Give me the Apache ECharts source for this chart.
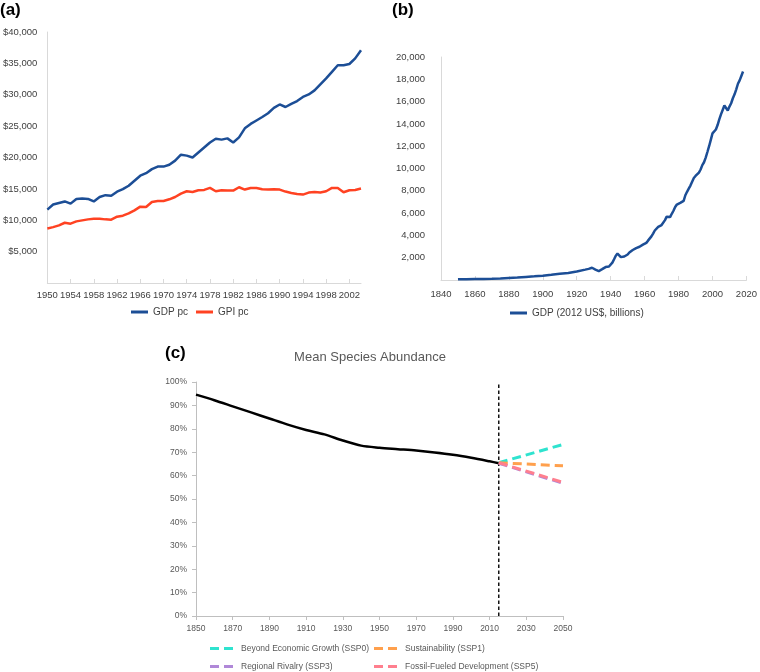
<!DOCTYPE html>
<html>
<head>
<meta charset="utf-8">
<script src="https://cdn.jsdelivr.net/npm/echarts@6/dist/echarts.min.js"></script>
<style>
html,body{margin:0;padding:0;background:#fff;}
#chart{width:760px;height:672px;}
</style>
</head>
<body>
<div id="chart"></div>
<script>
// ---------- Panel (a): GDP pc vs GPI pc ----------
const panelAYears = ['1950','1951','1952','1953','1954','1955','1956','1957','1958','1959',
  '1960','1961','1962','1963','1964','1965','1966','1967','1968','1969',
  '1970','1971','1972','1973','1974','1975','1976','1977','1978','1979',
  '1980','1981','1982','1983','1984','1985','1986','1987','1988','1989',
  '1990','1991','1992','1993','1994','1995','1996','1997','1998','1999',
  '2000','2001','2002','2003','2004'];
const gdpPc = [11700,12500,12750,13000,12650,13400,13450,13400,13000,13700,
  14000,13900,14550,14950,15500,16300,17100,17500,18150,18550,
  18550,18850,19500,20450,20300,20000,20800,21600,22400,23000,
  22850,23050,22400,23200,24650,25350,25900,26450,27050,27900,
  28450,28050,28550,29000,29650,30050,30700,31650,32600,33650,
  34700,34700,34900,35800,37100];
const gpiPc = [8700,8900,9180,9600,9450,9820,9980,10140,10250,10250,
  10140,10090,10570,10730,11100,11580,12170,12110,12910,13070,
  13070,13340,13710,14250,14620,14510,14780,14830,15150,14620,
  14780,14730,14730,15260,14890,15150,15150,14940,14890,14940,
  14890,14570,14350,14200,14090,14410,14510,14410,14620,15150,
  15150,14460,14780,14830,15050];

// ---------- Panel (b): US GDP (2012 US$, billions) ----------
const panelBYears = [1850,1855,1860,1865,1870,1875,1880,1885,1890,1895,1900,1905,1910,1915,1920,1925,
  1926,1927,1928,1929,
  1930,1931,1932,1933,1934,1935,1936,1937,1938,1939,
  1940,1941,1942,1943,1944,1945,1946,1947,1948,1949,
  1950,1951,1952,1953,1954,1955,1956,1957,1958,1959,
  1960,1961,1962,1963,1964,1965,1966,1967,1968,1969,
  1970,1971,1972,1973,1974,1975,1976,1977,1978,1979,
  1980,1981,1982,1983,1984,1985,1986,1987,1988,1989,
  1990,1991,1992,1993,1994,1995,1996,1997,1998,1999,
  2000,2001,2002,2003,2004,2005,2006,2007,2008,2009,
  2010,2011,2012,2013,2014,2015,2016,2017,2018];
const gdpBillions = [60,75,90,100,115,140,190,230,280,330,390,470,560,620,760,930,
  990,1000,1020,1100,
  1000,940,820,800,890,970,1100,1160,1120,1210,
  1320,1560,1860,2180,2370,2340,2050,2030,2110,2100,
  2290,2470,2570,2690,2670,2860,2920,2980,2950,3170,
  3250,3330,3530,3690,3910,4160,4440,4560,4770,4920,
  4930,5100,5370,5680,5650,5640,5940,6210,6550,6770,
  6750,6920,6790,7100,7600,7910,8190,8470,8820,9150,
  9330,9320,9640,9910,10300,10560,10980,11480,12000,12570,
  13150,13300,13500,13900,14400,14850,15250,15650,15600,15200,
  15550,15850,16300,16650,17100,17600,17900,18300,18700];

// ---------- Panel (c): Mean Species Abundance ----------
const msaYears = [1850,1860,1870,1880,1890,1900,1910,1920,1930,1940,1950,1960,1970,1980,1990,2000,2010,2015];
const msaValues = [0.946,0.922,0.896,0.870,0.844,0.818,0.795,0.776,0.750,0.728,0.719,0.713,0.707,0.699,0.689,0.676,0.661,0.653];
const projYears = [2015,2050];
const ssp0 = [0.655,0.733];
const ssp1 = [0.655,0.642];
const ssp3 = [0.653,0.567];
const ssp5 = [0.655,0.571];
const dividerYear = 2015;
const dividerRange = [0,1];

const FONT = "'Liberation Sans', Arial, sans-serif";
const pairs = (xs, ys) => xs.map((x,i)=>[x, ys[i]]);
const fmtComma = v => v.toLocaleString('en-US');
const DASH_ICON = 'path://M0,0H9V3H0Z M14,0H23V3H14Z';

const chart = echarts.init(document.getElementById('chart'), null, {renderer:'canvas'});

const labelA = {fontFamily:FONT, fontSize:9.5, color:'#404040'};
const labelC = {fontFamily:FONT, fontSize:8.5, color:'#595959'};
const legendC = {fontFamily:FONT, fontSize:8.5, color:'#595959', padding:[0,0,0,3]};

const option = {
  animation:false,
  backgroundColor:'#fff',
  title:[
    {text:'(a)', left:0, top:2, padding:0, textStyle:{fontFamily:FONT, fontSize:17, fontWeight:'bold', color:'#000'}},
    {text:'(b)', left:392, top:2, padding:0, textStyle:{fontFamily:FONT, fontSize:17, fontWeight:'bold', color:'#000'}},
    {text:'(c)', left:165, top:345, padding:0, textStyle:{fontFamily:FONT, fontSize:17, fontWeight:'bold', color:'#000'}},
    {text:'Mean Species Abundance', left:370, textAlign:'center', top:351, padding:0,
     textStyle:{fontFamily:FONT, fontSize:13, fontWeight:'normal', color:'#595959'}}
  ],
  grid:[
    {left:43, top:32, width:318, height:251, containLabel:false},
    {left:441, top:57, width:309, height:223, containLabel:false},
    {left:196, top:382, width:367, height:234, containLabel:false}
  ],
  xAxis:[
    {gridIndex:0, type:'category', data:panelAYears, boundaryGap:false,
     axisLine:{lineStyle:{color:'#d9d9d9', width:1}},
     axisTick:{interval:3, inside:true, length:4, lineStyle:{color:'#d9d9d9'}},
     axisLabel:Object.assign({interval:3, margin:7}, labelA),
     splitLine:{show:false}},
    {gridIndex:1, type:'value', min:1840, max:2020, interval:20,
     axisLine:{lineStyle:{color:'#d9d9d9', width:1}},
     axisTick:{inside:true, length:4, lineStyle:{color:'#d9d9d9'}},
     axisLabel:Object.assign({margin:9, showMaxLabel:true, formatter:v => String(v)}, labelA),
     splitLine:{show:false}},
    {gridIndex:2, type:'value', min:1850, max:2050, interval:20,
     axisLine:{lineStyle:{color:'#bfbfbf', width:1}},
     axisTick:{inside:false, length:4, lineStyle:{color:'#bfbfbf'}},
     axisLabel:Object.assign({margin:8, formatter:v => String(v)}, labelC),
     splitLine:{show:false}}
  ],
  yAxis:[
    {gridIndex:0, type:'value', min:0, max:40000, interval:5000,
     axisLine:{show:true, lineStyle:{color:'#d9d9d9', width:1}},
     axisTick:{show:false},
     axisLabel:Object.assign({margin:10, formatter:v => v===0 ? '' : '$'+fmtComma(v)}, labelA),
     splitLine:{show:false}},
    {gridIndex:1, type:'value', min:0, max:20000, interval:2000,
     axisLine:{show:true, lineStyle:{color:'#d9d9d9', width:1}},
     axisTick:{show:false},
     axisLabel:Object.assign({margin:16, formatter:v => v===0 ? '' : fmtComma(v)}, labelA),
     splitLine:{show:false}},
    {gridIndex:2, type:'value', min:0, max:1, interval:0.1,
     axisLine:{show:true, lineStyle:{color:'#bfbfbf', width:1}},
     axisTick:{show:true, inside:false, length:4, lineStyle:{color:'#bfbfbf'}},
     axisLabel:Object.assign({margin:9, formatter:v => Math.round(v*100)+'%'}, labelC),
     splitLine:{show:false}}
  ],
  legend:[
    {data:[{name:'GDP pc', icon:'rect'},{name:'GPI pc', icon:'rect'}], left:131, top:307, itemWidth:17, itemHeight:3, itemGap:8, padding:0,
     textStyle:{fontFamily:FONT, fontSize:10, color:'#404040'}},
    {data:[{name:'GDP (2012 US$, billions)', icon:'rect'}], left:510, top:308, itemWidth:17, itemHeight:3, padding:0,
     textStyle:{fontFamily:FONT, fontSize:10, color:'#404040'}},
    {data:[{name:'Beyond Economic Growth (SSP0)', icon:DASH_ICON}], left:210, top:644, itemWidth:23, itemHeight:3, padding:0, textStyle:legendC},
    {data:[{name:'Sustainability (SSP1)', icon:DASH_ICON}], left:374, top:644, itemWidth:23, itemHeight:3, padding:0, textStyle:legendC},
    {data:[{name:'Regional Rivalry (SSP3)', icon:DASH_ICON}], left:210, top:662, itemWidth:23, itemHeight:3, padding:0, textStyle:legendC},
    {data:[{name:'Fossil-Fueled Development (SSP5)', icon:DASH_ICON}], left:374, top:662, itemWidth:23, itemHeight:3, padding:0, textStyle:legendC}
  ],
  series:[
    {name:'GDP pc', type:'line', xAxisIndex:0, yAxisIndex:0, data:gdpPc, symbol:'none',
     lineStyle:{color:'#1c4e96', width:2.5}, itemStyle:{color:'#1c4e96'}},
    {name:'GPI pc', type:'line', xAxisIndex:0, yAxisIndex:0, data:gpiPc, symbol:'none',
     lineStyle:{color:'#ff4222', width:2.5}, itemStyle:{color:'#ff4222'}},
    {name:'GDP (2012 US$, billions)', type:'line', xAxisIndex:1, yAxisIndex:1, data:pairs(panelBYears, gdpBillions), symbol:'none',
     lineStyle:{color:'#1c4e96', width:2.5}, itemStyle:{color:'#1c4e96'}},
    {name:'divider', type:'line', xAxisIndex:2, yAxisIndex:2, data:dividerRange.map(v=>[dividerYear, v]), symbol:'none',
     lineStyle:{color:'#000', width:1.4, type:[3.5,2.5]}, z:1},
    {name:'MSA', type:'line', xAxisIndex:2, yAxisIndex:2, data:pairs(msaYears, msaValues), symbol:'none', smooth:0.3,
     lineStyle:{color:'#000', width:2.5}, itemStyle:{color:'#000'}, z:2},
    {name:'Beyond Economic Growth (SSP0)', type:'line', xAxisIndex:2, yAxisIndex:2, data:pairs(projYears, ssp0), symbol:'none',
     lineStyle:{color:'#2fe3cf', width:3, type:[9,5]}, itemStyle:{color:'#2fe3cf'}, z:3},
    {name:'Sustainability (SSP1)', type:'line', xAxisIndex:2, yAxisIndex:2, data:pairs(projYears, ssp1), symbol:'none',
     lineStyle:{color:'#ffa04d', width:3, type:[9,5]}, itemStyle:{color:'#ffa04d'}, z:3},
    {name:'Regional Rivalry (SSP3)', type:'line', xAxisIndex:2, yAxisIndex:2, data:pairs(projYears, ssp3), symbol:'none',
     lineStyle:{color:'#b088d8', width:3, type:[9,5]}, itemStyle:{color:'#b088d8'}, z:3},
    {name:'Fossil-Fueled Development (SSP5)', type:'line', xAxisIndex:2, yAxisIndex:2, data:pairs(projYears, ssp5), symbol:'none',
     lineStyle:{color:'#ff7f8e', width:3, type:[9,5]}, itemStyle:{color:'#ff7f8e'}, z:3}
  ]
};
chart.setOption(option);
</script>
</body>
</html>
